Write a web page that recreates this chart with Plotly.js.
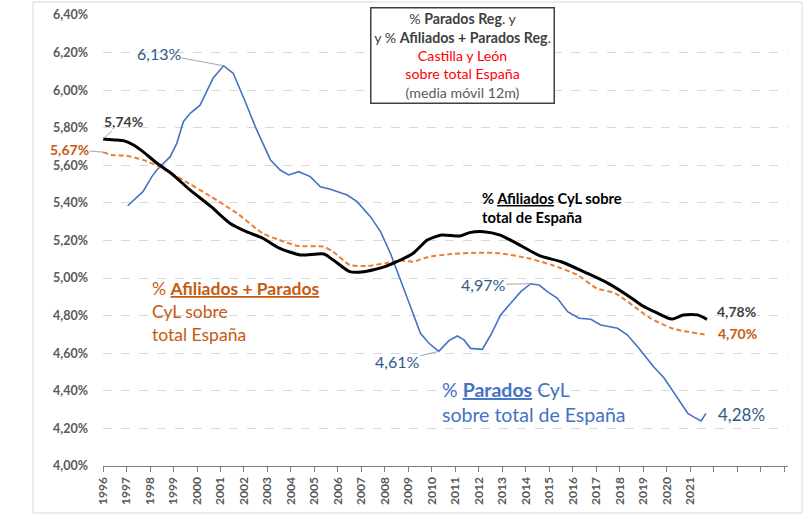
<!DOCTYPE html>
<html><head><meta charset="utf-8">
<script src="https://cdn.plot.ly/plotly-3.0.1.min.js"></script>
<style>html,body{margin:0;padding:0;background:#fff}#chart{width:809px;height:516px}</style>
</head><body><div id="chart"></div>
<script>
// Years (decimal) and % values
const afilX = [1996.0,1996.5,1996.9,1997.3,1997.7,1998.3,1998.9,1999.7,2000.6,2001.4,2002.1,2002.8,2003.5,2004.4,2005.4,2005.8,2006.5,2007.1,2008.0,2008.5,2009.2,2009.8,2010.4,2011.2,2011.6,2012.2,2012.9,2013.6,2014.6,2015.5,2016.6,2017.5,2018.5,2018.9,2019.6,2020.2,2020.7,2021.3,2021.7];
const afilY = [5.74,5.735,5.73,5.708,5.673,5.611,5.558,5.469,5.38,5.292,5.247,5.212,5.159,5.123,5.128,5.096,5.034,5.034,5.061,5.087,5.132,5.203,5.229,5.224,5.242,5.247,5.229,5.185,5.118,5.087,5.026,4.972,4.893,4.857,4.813,4.782,4.804,4.804,4.78];

const afparX = [1996.0,1996.4,1997.0,1997.7,1998.4,1999.4,2000.6,2001.7,2002.8,2003.5,2004.3,2005.4,2005.8,2006.5,2007.2,2008.0,2008.7,2009.2,2009.8,2010.8,2012.0,2012.9,2014.1,2015.1,2016.2,2017.0,2017.8,2018.9,2019.3,2020.2,2020.7,2021.6];
const afparY = [5.67,5.655,5.651,5.629,5.593,5.522,5.433,5.345,5.238,5.203,5.171,5.167,5.14,5.07,5.064,5.079,5.093,5.087,5.111,5.128,5.135,5.132,5.105,5.07,5.016,4.946,4.919,4.821,4.786,4.733,4.718,4.70];

const parX = [1997.05,1997.7,1998.08,1998.29,1998.86,1999.14,1999.42,1999.71,2000.13,2000.69,2001.13,2001.54,2002.05,2002.48,2003.12,2003.54,2003.9,2004.33,2004.82,2005.25,2005.68,2006.39,2006.81,2007.38,2007.81,2008.23,2008.66,2009.09,2009.51,2009.87,2010.29,2010.72,2011.08,2011.36,2011.64,2012.14,2012.5,2012.92,2013.35,2013.78,2014.2,2014.56,2014.91,2015.34,2015.77,2016.26,2016.76,2017.18,2017.9,2018.32,2018.75,2019.18,2019.44,2019.87,2020.3,2020.89,2021.15,2021.45,2021.66];
const parY = [5.385,5.46,5.54,5.575,5.646,5.717,5.832,5.877,5.92,6.065,6.13,6.09,5.94,5.806,5.63,5.575,5.549,5.566,5.54,5.486,5.473,5.442,5.407,5.327,5.247,5.132,4.99,4.848,4.706,4.653,4.61,4.667,4.692,4.671,4.626,4.621,4.697,4.804,4.866,4.928,4.97,4.963,4.928,4.892,4.821,4.786,4.781,4.75,4.733,4.697,4.635,4.564,4.527,4.47,4.39,4.28,4.26,4.24,4.28];

const yearTicks = [1996,1997,1998,1999,2000,2001,2002,2003,2004,2005,2006,2007,2008,2009,2010,2011,2012,2013,2014,2015,2016,2017,2018,2019,2020,2021,2022,2023,2024,2025];
const yearLabels = ['1996','1997','1998','1999','2000','2001','2002','2003','2004','2005','2006','2007','2008','2009','2010','2011','2012','2013','2014','2015','2016','2017','2018','2019','2020','2021','','','',''];

const FONT = 'Lato, "Open Sans", sans-serif';
const fmt = v => v.toFixed(2).replace('.', ',') + '%';
const last = a => a[a.length-1];

const iMax = parY.indexOf(Math.max(...parY));
let iMin = -1, iMax2 = -1;
parX.forEach((x,i)=>{
  if (x>2009 && x<2013 && (iMin<0 || parY[i] < parY[iMin])) iMin=i;
  if (x>2013 && x<2016 && (iMax2<0 || parY[i] > parY[iMax2])) iMax2=i;
});

const traces = [
  {x: parX, y: parY, type:'scatter', mode:'lines', line:{color:'#4472c4', width:1.6}, hoverinfo:'skip'},
  {x: afparX, y: afparY, type:'scatter', mode:'lines', line:{color:'#ed7d31', width:2, dash:'5px,3px', shape:'spline', smoothing:0.6}, hoverinfo:'skip'},
  {x: afilX, y: afilY, type:'scatter', mode:'lines', line:{color:'#000000', width:3, shape:'spline', smoothing:0.6}, hoverinfo:'skip'}
];

const arrowBase = {showarrow:true, arrowhead:0, arrowwidth:1, arrowcolor:'#a6a6a6', standoff:0};
const annotations = [
  Object.assign({x: parX[iMax], y: parY[iMax], ax:-65, ay:-12, text: fmt(parY[iMax]), font:{family:FONT, size:16, color:'#2e5a88'}}, arrowBase),
  Object.assign({x: afilX[0], y: afilY[0], ax:20, ay:-18, text: '<b>'+fmt(afilY[0])+'</b>', font:{family:FONT, size:14, color:'#404040'}}, arrowBase),
  Object.assign({x: afparX[0], y: afparY[0], ax:-34, ay:-3, text: '<b>'+fmt(afparY[0])+'</b>', font:{family:FONT, size:14, color:'#c55a11'}}, arrowBase),
  Object.assign({x: parX[iMin], y: parY[iMin], ax:-42, ay:10, text: fmt(parY[iMin]), font:{family:FONT, size:16, color:'#2e5a88'}}, arrowBase),
  Object.assign({x: parX[iMax2], y: parY[iMax2], ax:-48, ay:1, text: fmt(parY[iMax2]), font:{family:FONT, size:16, color:'#2e5a88'}}, arrowBase),
  {x: last(afilX), y: last(afilY), xanchor:'left', yanchor:'middle', xshift:8, yshift:8, showarrow:false, text:'<b>'+fmt(last(afilY))+'</b>', font:{family:FONT, size:14, color:'#404040'}},
  {x: last(afparX), y: last(afparY), xanchor:'left', yanchor:'middle', xshift:11, yshift:1, showarrow:false, text:'<b>'+fmt(last(afparY))+'</b>', font:{family:FONT, size:14, color:'#c55a11'}},
  {x: last(parX), y: last(parY), xanchor:'left', yanchor:'middle', xshift:10, yshift:-1, showarrow:false, text:fmt(last(parY)), font:{family:FONT, size:17, color:'#2e5a88'}},
  // series names
  {x: 1998.0, y: 4.82, xanchor:'left', yanchor:'middle', align:'left', showarrow:false,
   text:'% <b><u>Afiliados + Parados</u></b><br>CyL sobre<br>total España', font:{family:FONT, size:17.5, color:'#c55a11'}},
  {x: 2012.05, y: 5.373, xanchor:'left', yanchor:'middle', align:'left', showarrow:false,
   text:'<b>% <u>Afiliados</u> CyL sobre<br>total de España</b>', font:{family:FONT, size:14.7, color:'#000000'}},
  {x: 2010.35, y: 4.343, xanchor:'left', yanchor:'middle', align:'left', showarrow:false,
   text:'% <b><u>Parados</u></b> CyL<br>sobre total de España', font:{family:FONT, size:19.5, color:'#4472c4'}},
  // title box
  {xref:'paper', yref:'paper', x:(462-103)/685, y:(466-55)/451, xanchor:'center', yanchor:'middle', showarrow:false,
   width:182, height:94, bgcolor:'#ffffff', bordercolor:'#404040', borderwidth:1.5, borderpad:0,
   text:'<span style="color:#404040">% <b>Parados Reg</b>. y<br>y % <b>Afiliados + Parados Reg</b>.</span><br><span style="color:#ff0000">Castilla y León<br>sobre total España</span><br><span style="color:#595959">(media móvil 12m)</span>',
   font:{family:FONT, size:14.2, color:'#404040'}}
];

const layout = {
  width:809, height:516,
  margin:{l:103, r:21, t:15, b:50, pad:0},
  paper_bgcolor:'#ffffff', plot_bgcolor:'#ffffff',
  showlegend:false,
  separators:',.',
  font:{family:FONT},
  xaxis:{type:'linear', range:[1996, 2025.15], tickmode:'array', tickvals:yearTicks, ticktext:yearLabels,
    tickangle:-90, ticks:'outside', ticklen:5, tickcolor:'#7f7f7f', showline:true, linecolor:'#7f7f7f', linewidth:1.3,
    showgrid:false, zeroline:false, tickfont:{family:FONT, size:12, color:'#595959', weight:'bold'}},
  yaxis:{range:[4.0, 6.4], dtick:0.2, tick0:4.0, tickformat:'.2f', ticksuffix:'%', showline:false, zeroline:false,
    showgrid:true, gridcolor:'#d9d9d9', griddash:'dash', gridwidth:1, ticklabelstandoff:14,
    tickfont:{family:FONT, size:12.5, color:'#595959', weight:'bold'}},
  annotations: annotations,
  shapes:[{type:'rect', xref:'paper', yref:'paper', x0:(33-103)/685, x1:(802-103)/685, y0:(466-513)/451, y1:(466-2)/451,
    line:{color:'#d9d9d9', width:1}, layer:'below'}]
};

Plotly.newPlot('chart', traces, layout, {staticPlot:true, displayModeBar:false});
</script></body></html>
